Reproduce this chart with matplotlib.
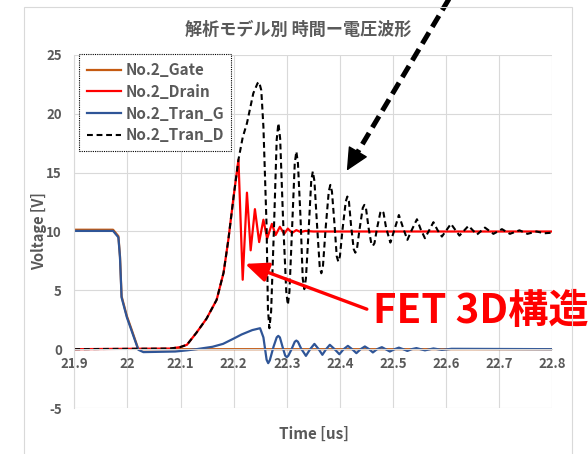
import numpy as np
import matplotlib.pyplot as plt

plt.rcParams['font.family'] = ['Noto Sans CJK JP', 'DejaVu Sans']
plt.rcParams['axes.unicode_minus'] = False

# 読み取りデータ (時間 [us], 電圧 [V])
gate_t = [21.9, 21.973, 21.983, 21.986, 21.989, 21.999, 22.008, 22.0205, 22.8]
gate_v = [10.15, 10.15, 9.6, 7.9, 4.5, 2.8, 1.65, 0.0, 0.0]

drain_t = [21.9, 22.08, 22.099, 22.112, 22.13, 22.149, 22.168, 22.181, 22.19, 22.2,
           22.209, 22.217, 22.225, 22.232, 22.24, 22.248, 22.256, 22.263, 22.272,
           22.279, 22.287, 22.295, 22.302, 22.31, 22.318, 22.326, 22.335, 22.35, 22.8]
drain_v = [0.0, 0.05, 0.17, 0.37, 1.4, 2.6, 4.2, 6.5, 9.3, 13.0,
           16.1, 5.9, 13.3, 8.4, 11.9, 9.1, 11.0, 9.4, 10.65,
           9.7, 10.4, 9.8, 10.25, 9.88, 10.12, 9.95, 10.05, 10.0, 10.0]

tran_g_t = [21.9, 21.973, 21.983, 21.986, 21.989, 21.999, 22.008, 22.0205, 22.03,
            22.09, 22.112, 22.13, 22.16, 22.18, 22.2, 22.215, 22.235, 22.2497,
            22.256, 22.262, 22.265, 22.268, 22.275, 22.281, 22.284, 22.287, 22.292,
            22.297, 22.3, 22.303, 22.309, 22.315, 22.318, 22.321, 22.327,
            22.336, 22.344, 22.352, 22.36, 22.367, 22.374, 22.381, 22.39, 22.399,
            22.407, 22.415, 22.423, 22.431, 22.439, 22.447, 22.455, 22.462, 22.47,
            22.479, 22.486, 22.494, 22.503, 22.511, 22.519, 22.527, 22.535, 22.544,
            22.56, 22.576, 22.592, 22.61, 22.8]
tran_g_v = [10.05, 10.05, 9.5, 7.8, 4.4, 2.7, 1.55, -0.05, -0.25,
            -0.2, -0.1, 0.0, 0.2, 0.45, 0.9, 1.25, 1.62, 1.78,
            1.0, -0.9, -1.19, -0.95, 0.2, 1.0, 1.13, 1.0, 0.2,
            -0.55, -0.68, -0.55, 0.0, 0.63, 0.73, 0.63, 0.05,
            -0.57, 0.0, 0.45, 0.0, -0.48, 0.0, 0.37, 0.0, -0.43,
            0.0, 0.28, 0.0, -0.34, 0.0, 0.23, 0.0, -0.28, 0.0,
            0.17, 0.0, -0.2, 0.0, 0.13, 0.0, -0.15, 0.0, 0.09,
            -0.1, 0.06, -0.06, 0.03, 0.0]

tran_d_t = [21.9, 22.08, 22.099, 22.112, 22.13, 22.149, 22.168, 22.181, 22.19, 22.2,
            22.209, 22.217, 22.225, 22.237, 22.245, 22.248, 22.252, 22.256, 22.262,
            22.2645, 22.2672, 22.2705, 22.276, 22.281, 22.2842, 22.2875, 22.293,
            22.299, 22.302, 22.305, 22.31, 22.315, 22.318, 22.321, 22.326,
            22.33, 22.333, 22.336, 22.341, 22.346, 22.349, 22.352, 22.357,
            22.362, 22.365, 22.368, 22.373, 22.379, 22.382, 22.385, 22.39,
            22.394, 22.397, 22.4, 22.405, 22.411, 22.414, 22.417, 22.421,
            22.426, 22.429, 22.432, 22.437, 22.443, 22.446, 22.449, 22.454,
            22.459, 22.462, 22.465, 22.47, 22.476, 22.479, 22.482, 22.487,
            22.495, 22.503, 22.511, 22.519, 22.527, 22.536, 22.545,
            22.552, 22.56, 22.568, 22.576, 22.584, 22.592, 22.609, 22.625, 22.642,
            22.658, 22.673, 22.689, 22.705, 22.72, 22.738, 22.753, 22.77, 22.785, 22.8]
tran_d_v = [0.0, 0.05, 0.17, 0.37, 1.4, 2.6, 4.2, 6.5, 9.3, 13.0,
            16.1, 18.0, 19.2, 21.75, 22.6, 22.7, 22.0, 18.9, 10.4,
            3.4, 1.78, 3.2, 10.5, 17.8, 19.2, 17.9, 11.0,
            4.9, 3.76, 4.9, 10.3, 15.8, 16.8, 15.8, 11.0,
            6.0, 5.1, 6.0, 10.0, 14.3, 15.1, 14.3, 10.5,
            7.0, 6.45, 7.0, 10.2, 13.4, 13.96, 13.4, 10.5,
            7.9, 7.44, 7.9, 10.2, 12.55, 12.97, 12.55, 10.5,
            8.5, 8.2, 8.5, 10.2, 12.0, 12.26, 12.0, 10.3,
            9.0, 8.78, 9.0, 10.3, 11.6, 11.78, 11.6, 10.3,
            9.06, 10.2, 11.4, 10.3, 9.29, 10.2, 11.04,
            10.2, 9.43, 10.1, 10.79, 10.1, 9.57, 10.65, 9.65, 10.48,
            9.74, 10.33, 9.8, 10.2, 9.8, 10.1, 9.8, 10.0, 9.85, 9.9]

x_ticks = [21.9, 22.0, 22.1, 22.2, 22.3, 22.4, 22.5, 22.6, 22.7, 22.8]
x_labels = ['21.9', '22', '22.1', '22.2', '22.3', '22.4', '22.5', '22.6', '22.7', '22.8']
y_ticks = [-5, 0, 5, 10, 15, 20, 25]

gray = '#595959'
grid_c = '#D9D9D9'

fig = plt.figure(figsize=(5.88, 4.54), dpi=100)
W, H = 588, 454

# グラフエリアの枠
frame = plt.Rectangle((24 / W, -0.05), (572 - 24) / W, 1.05 - 7.5 / H,
                      transform=fig.transFigure, fill=False, ec=grid_c, lw=0.8)
fig.patches.append(frame)

ax = fig.add_axes([74.3 / W, 1 - 408 / H, (552.4 - 74.3) / W, (408 - 55) / H])

ax.plot(gate_t, gate_v, color='#C55A11', lw=1.6, label='No.2_Gate')
ax.plot(drain_t, drain_v, color='#FF0000', lw=1.6, label='No.2_Drain')
ax.plot(tran_g_t, tran_g_v, color='#2F5597', lw=1.6, label='No.2_Tran_G')
ax.plot(tran_d_t, tran_d_v, color='black', lw=1.5, dashes=(2.8, 1.8), label='No.2_Tran_D')

ax.set_xlim(21.9, 22.8)
ax.set_ylim(-5, 25)
ax.set_xticks(x_ticks)
ax.set_xticklabels(x_labels)
ax.set_yticks(y_ticks)
ax.grid(True, color=grid_c, lw=0.8)
ax.set_axisbelow(True)
for s in ['top', 'right']:
    ax.spines[s].set_visible(False)
ax.spines['left'].set_color(grid_c)
ax.spines['bottom'].set_position(('data', 0))
ax.spines['bottom'].set_color(grid_c)
ax.tick_params(length=0, labelsize=9.5, labelcolor=gray)
ax.tick_params(axis='x', pad=6)
ax.tick_params(axis='y', pad=9)
for lab in ax.get_xticklabels() + ax.get_yticklabels():
    lab.set_fontweight('bold')

leg = ax.legend(loc='upper left', bbox_to_anchor=(0.0105, 1.002), borderaxespad=0,
                fancybox=False, framealpha=1, edgecolor='black',
                prop={'size': 11, 'weight': 'bold'}, handlelength=2.2,
                handletextpad=0.3, labelspacing=0.38, borderpad=0.5)
leg.get_frame().set_linestyle((0, (1, 1)))
leg.get_frame().set_linewidth(0.8)
for t in leg.get_texts():
    t.set_color(gray)

fig.text(298 / W, 1 - 30 / H, '解析モデル別 時間ー電圧波形', ha='center', va='center',
         fontsize=12.3, fontweight='bold', color=gray)
fig.text(39 / W, 1 - 231 / H, 'Voltage [V]', rotation=90, ha='center', va='center',
         fontsize=10.5, fontweight='bold', color=gray)
fig.text(314 / W, 1 - 434 / H, 'Time [us]', ha='center', va='center',
         fontsize=11, fontweight='bold', color=gray)

# 注釈: 黒の破線矢印 (軸と頭を別々に描く)
ax.plot([22.615, 22.4295], [30.5, 16.45], color='black', lw=3.6, dashes=(2.6, 1.3),
        clip_on=False, solid_capstyle='butt', dash_capstyle='butt')
ax.annotate('', xy=(22.413, 15.17), xytext=(22.4335, 16.75), annotation_clip=False,
            arrowprops=dict(arrowstyle='-|>,head_length=1.45,head_width=0.7',
                            lw=1.0, color='black', shrinkA=0, shrinkB=0))
ax.annotate('', xy=(22.2215, 7.25), xytext=(22.4507, 3.4), annotation_clip=False,
            arrowprops=dict(arrowstyle='-|>,head_length=1.4,head_width=0.6',
                            lw=2.4, color='#FF0000', shrinkA=0, shrinkB=0))
ax.text(22.463, 3.17, 'FET 3D構造', ha='left', va='center', fontsize=29,
        fontweight='bold', color='#FF0000', clip_on=False)

fig.savefig('out.png', dpi=100)
